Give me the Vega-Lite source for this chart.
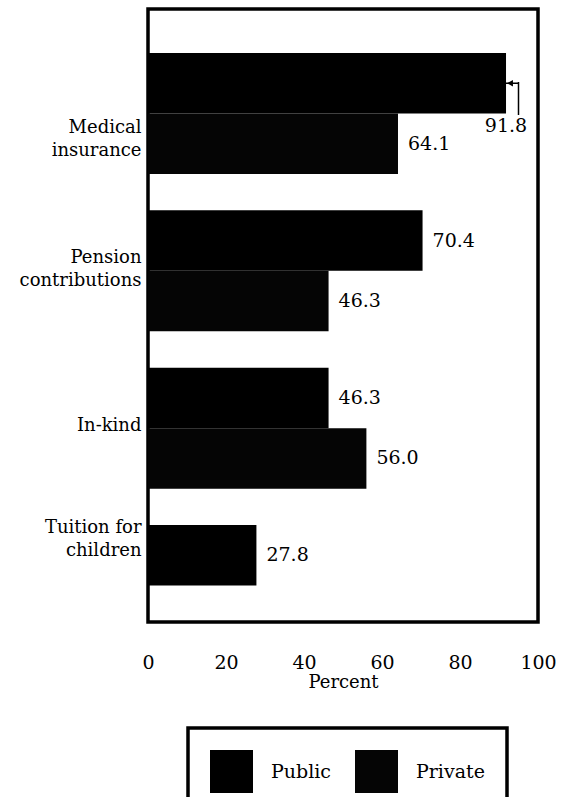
{
  "$schema": "https://vega.github.io/schema/vega-lite/v6.json",
  "width": 390,
  "height": 613,
  "autosize": {"type": "none"},
  "padding": {"left": 148, "top": 9, "right": 36, "bottom": 175},
  "background": "white",
  "config": {
    "view": {"stroke": "black", "strokeWidth": 3.5},
    "font": "DejaVu Serif",
    "legend": {"strokeWidth": 3.5}
  },
  "data": {
    "values": [
      {"category": "Medical insurance", "sector": "Public", "value": 91.8},
      {"category": "Medical insurance", "sector": "Private", "value": 64.1},
      {"category": "Pension contributions", "sector": "Public", "value": 70.4},
      {"category": "Pension contributions", "sector": "Private", "value": 46.3},
      {"category": "In-kind", "sector": "Public", "value": 46.3},
      {"category": "In-kind", "sector": "Private", "value": 56.0},
      {"category": "Tuition for children", "sector": "Public", "value": 27.8}
    ]
  },
  "layer": [
    {
      "mark": {"type": "bar"},
      "encoding": {
        "y": {
          "field": "category", "type": "nominal", "title": null,
          "scale": {"domain": ["Medical insurance", "Pension contributions", "In-kind", "Tuition for children"], "range": [44, 637], "paddingInner": 0.231, "paddingOuter": 0},
          "axis": {
            "ticks": false, "domain": false, "grid": false,
            "labelPadding": 7, "labelFontSize": 18, "labelFont": "DejaVu Serif", "labelColor": "black",
            "labelLineHeight": 23, "labelLimit": 220,
            "labelExpr": "datum.value == 'Medical insurance' ? ['Medical','insurance'] : datum.value == 'Pension contributions' ? ['Pension','contributions'] : datum.value == 'Tuition for children' ? ['Tuition for','children'] : datum.label",
            "labelOffset": {"condition": [{"test": "datum.value == 'Medical insurance'", "value": 15}, {"test": "datum.value == 'Pension contributions'", "value": -13}, {"test": "datum.value == 'Tuition for children'", "value": -58}], "value": -2}
          }
        },
        "yOffset": {"field": "sector", "type": "nominal", "scale": {"domain": ["Public", "Private"], "paddingInner": 0, "paddingOuter": 0}},
        "x": {
          "field": "value", "type": "quantitative", "title": "Percent",
          "scale": {"domain": [0, 100], "nice": false},
          "axis": {
            "values": [0, 20, 40, 60, 80, 100], "ticks": false, "domain": false, "grid": false,
            "labelFlush": false, "labelPadding": 31, "labelFontSize": 19, "labelFont": "DejaVu Serif", "labelColor": "black",
            "titleFontSize": 18, "titleFont": "DejaVu Serif", "titleFontWeight": "normal", "titleColor": "black", "titlePadding": 1
          }
        },
        "color": {
          "field": "sector", "type": "nominal",
          "scale": {"domain": ["Public", "Private"], "range": ["#000000", "#050505"]},
          "legend": {
            "orient": "none", "legendX": 40, "legendY": 719, "direction": "horizontal", "title": null,
            "symbolType": "square", "symbolSize": 1849, "symbolStrokeWidth": 0, "symbolOpacity": 1,
            "labelFontSize": 19, "labelFont": "DejaVu Serif", "labelColor": "black",
            "labelOffset": 18, "columnPadding": 24, "padding": 22, "strokeColor": "black"
          }
        }
      }
    },
    {
      "transform": [{"filter": "datum.value < 90"}],
      "mark": {"type": "text", "align": "left", "baseline": "middle", "dx": 10, "fontSize": 19, "font": "DejaVu Serif", "color": "black"},
      "encoding": {
        "y": {"field": "category", "type": "nominal", "title": null},
        "yOffset": {"field": "sector", "type": "nominal"},
        "x": {"field": "value", "type": "quantitative", "title": "Percent"},
        "text": {"field": "value", "type": "quantitative", "format": ".1f"}
      }
    },
    {
      "transform": [{"filter": "datum.value >= 90"}],
      "mark": {"type": "text", "align": "center", "baseline": "middle", "dy": 43, "fontSize": 19, "font": "DejaVu Serif", "color": "black"},
      "encoding": {
        "y": {"field": "category", "type": "nominal", "title": null},
        "yOffset": {"field": "sector", "type": "nominal"},
        "x": {"field": "value", "type": "quantitative", "title": "Percent"},
        "text": {"field": "value", "type": "quantitative", "format": ".1f"}
      }
    },
    {
      "transform": [{"filter": "datum.value >= 90"}],
      "mark": {"type": "rule", "strokeWidth": 1.5, "color": "black"},
      "encoding": {
        "y": {"field": "category", "type": "nominal", "title": null},
        "yOffset": {"field": "sector", "type": "nominal"},
        "x": {"field": "value", "type": "quantitative", "title": "Percent"},
        "x2": {"datum": 95}
      }
    },
    {
      "transform": [{"filter": "datum.value >= 90"}],
      "mark": {"type": "tick", "orient": "vertical", "size": 33, "thickness": 1.5, "yOffset": -15, "color": "black", "opacity": 1},
      "encoding": {
        "y": {"field": "category", "type": "nominal", "title": null},
        "x": {"datum": 95, "type": "quantitative", "title": "Percent"}
      }
    },
    {
      "transform": [{"filter": "datum.value >= 90"}],
      "mark": {"type": "point", "shape": "triangle-left", "filled": true, "size": 45, "xOffset": 4, "color": "black", "opacity": 1},
      "encoding": {
        "y": {"field": "category", "type": "nominal", "title": null},
        "yOffset": {"field": "sector", "type": "nominal"},
        "x": {"field": "value", "type": "quantitative", "title": "Percent"}
      }
    }
  ]
}
